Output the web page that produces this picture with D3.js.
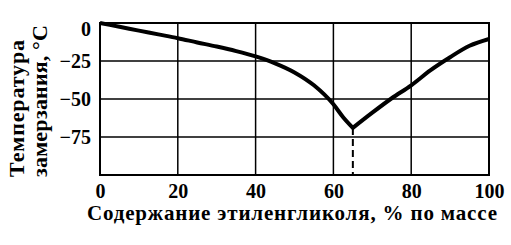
<!DOCTYPE html>
<html lang="ru">
<head>
<meta charset="utf-8">
<title>Температура замерзания</title>
<script src="https://cdn.jsdelivr.net/npm/d3@7"></script>
<style>
  body { margin: 0; background: #fff; }
  text { font-family: "Liberation Serif", "Times New Roman", serif; fill: #000; }
</style>
</head>
<body>
<script>
// glycol content, % by mass and freezing point, deg C
var content = [0, 5, 10, 15, 20, 25, 30, 35, 40, 45, 50, 55, 60, 62.5, 65, 70, 75, 80, 85, 90, 95, 100];
var freeze  = [0, -2.5, -5, -7.5, -10, -12.8, -15.5, -18.5, -22, -26.5, -32.5, -41, -53.5, -62, -69, -59, -49.5, -41, -31, -22.5, -15, -10.5];
var xTicks = [0, 20, 40, 60, 80, 100];
var yTicks = [0, -25, -50, -75];
var eutectic = 65;

var margin = {top: 23, right: 22, bottom: 70, left: 100};
var width = 511, height = 245;
var w = width - margin.left - margin.right;
var h = height - margin.top - margin.bottom;

var svg = d3.select("body").append("svg")
    .attr("width", width)
    .attr("height", height);

var g = svg.append("g")
    .attr("transform", "translate(" + margin.left + "," + margin.top + ")");

var x = d3.scaleLinear().domain([0, 100]).range([0, w]);
var y = d3.scaleLinear().domain([-100, 0]).range([h, 0]);

// grid
g.selectAll(".vgrid").data(xTicks.slice(1, -1)).enter().append("line")
    .attr("x1", d => x(d)).attr("x2", d => x(d))
    .attr("y1", 0).attr("y2", h)
    .attr("stroke", "#000").attr("stroke-width", 1.5);
g.selectAll(".hgrid").data(yTicks.slice(1)).enter().append("line")
    .attr("x1", 0).attr("x2", w)
    .attr("y1", d => y(d)).attr("y2", d => y(d))
    .attr("stroke", "#000").attr("stroke-width", 1.5);

// frame
g.append("rect")
    .attr("width", w).attr("height", h)
    .attr("fill", "none").attr("stroke", "#000").attr("stroke-width", 2);

// axes (labels only)
var xAxis = d3.axisBottom(x).tickValues(xTicks).tickSize(0).tickPadding(9);
g.append("g").attr("transform", "translate(0," + h + ")").call(xAxis)
    .call(a => a.select(".domain").remove())
    .selectAll("text").attr("font-size", 20).attr("font-weight", "bold")
    .attr("font-family", "Liberation Serif");

var yAxis = d3.axisLeft(y).tickValues(yTicks).tickSize(0).tickPadding(9);
g.append("g").call(yAxis)
    .call(a => a.select(".domain").remove())
    .selectAll("text").attr("font-size", 20).attr("font-weight", "bold")
    .attr("font-family", "Liberation Serif")
    .attr("dy", d => d === 0 ? "0.62em" : "0.32em");

// dashed line from the minimum
var k = content.indexOf(eutectic);
g.append("line")
    .attr("x1", x(eutectic)).attr("x2", x(eutectic))
    .attr("y1", y(freeze[k])).attr("y2", h)
    .attr("stroke", "#000").attr("stroke-width", 2)
    .attr("stroke-dasharray", "7,4");

// curve: two smooth branches meeting at a sharp minimum
var line = d3.line()
    .x(d => x(d[0]))
    .y(d => y(d[1]))
    .curve(d3.curveMonotoneX);
var pts = content.map((c, i) => [c, freeze[i]]);
var left = line(pts.slice(0, k + 1));
var right = line(pts.slice(k)).replace(/^M/, "L");
g.append("path")
    .attr("d", left + right)
    .attr("fill", "none")
    .attr("stroke", "#000")
    .attr("stroke-width", 4)
    .attr("stroke-linejoin", "miter");

// axis titles
svg.append("text")
    .attr("x", 87).attr("y", 220)
    .attr("font-size", 21)
    .attr("font-weight", "bold")
    .attr("textLength", 410)
    .attr("lengthAdjust", "spacing")
    .text("Содержание этиленгликоля, % по массе");

svg.append("text")
    .attr("transform", "translate(24,177) rotate(-90)")
    .attr("font-size", 22)
    .attr("font-weight", "bold")
    .attr("textLength", 137)
    .attr("lengthAdjust", "spacing")
    .text("Температура");
svg.append("text")
    .attr("transform", "translate(47,177) rotate(-90)")
    .attr("font-size", 22)
    .attr("font-weight", "bold")
    .attr("textLength", 152)
    .attr("lengthAdjust", "spacing")
    .text("замерзания, °С");
</script>
</body>
</html>
